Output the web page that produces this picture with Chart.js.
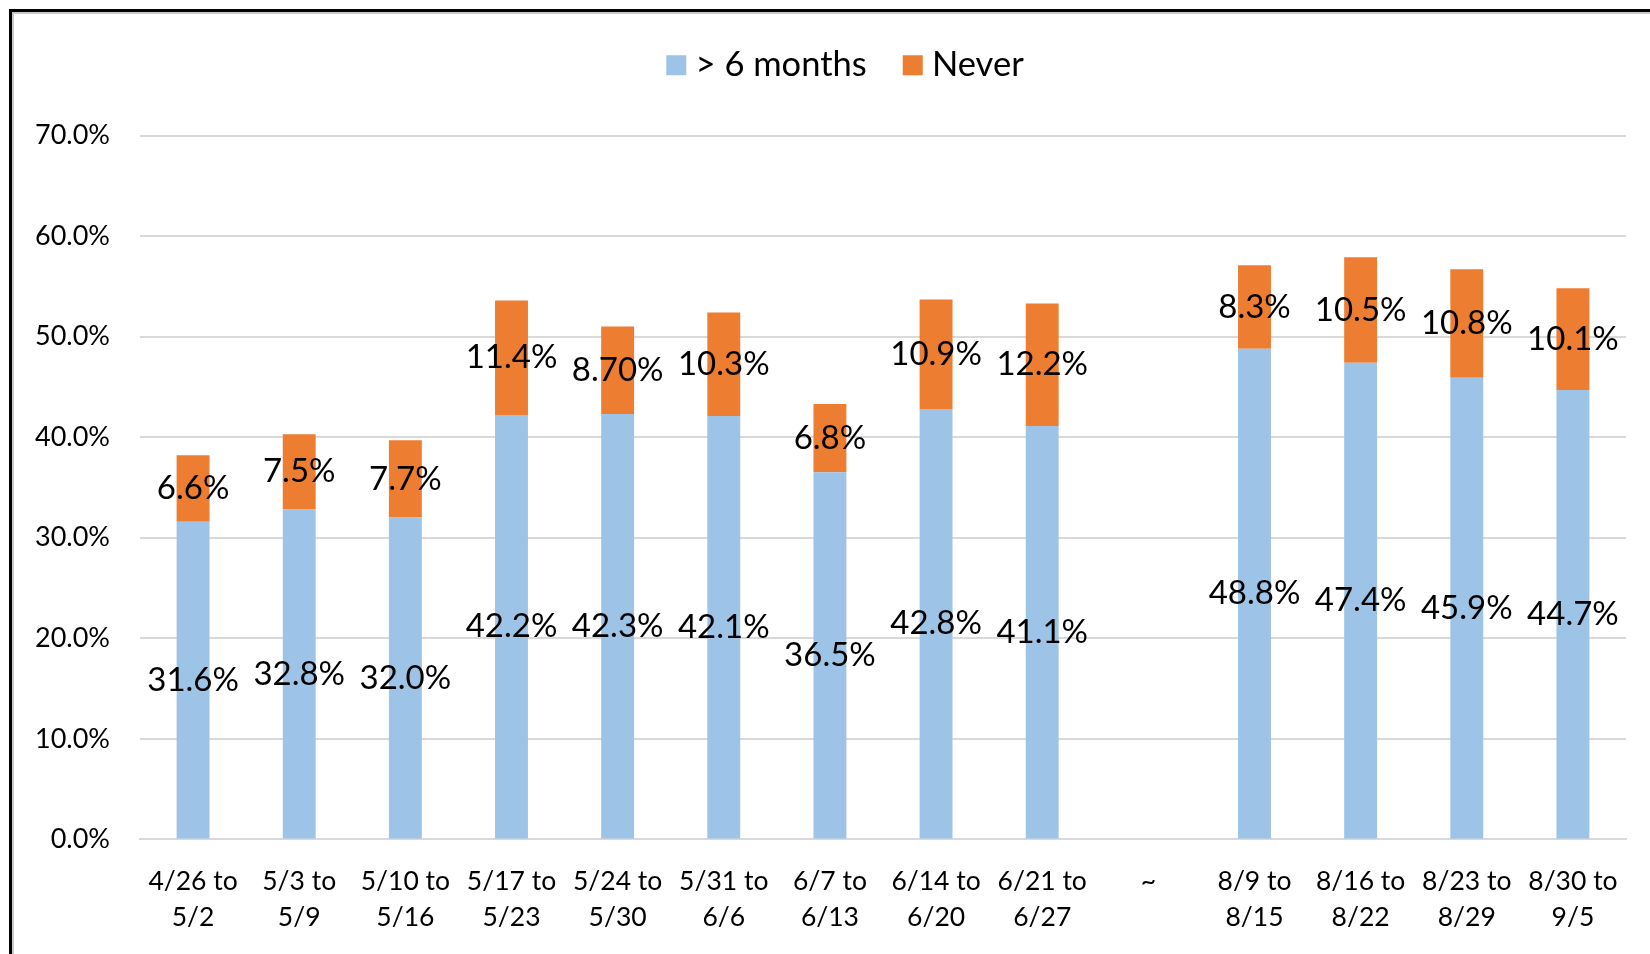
<!DOCTYPE html>
<html lang="en">
<head>
    <meta charset="UTF-8">
    <title>&gt; 6 months vs Never</title>
    <script src="https://cdn.jsdelivr.net/npm/chart.js"></script>
    <style>
        html, body {
            margin: 0;
            padding: 0;
            background: #fff;
            overflow: hidden;
        }
        /* marco negro del gráfico original (solo se ven los bordes izquierdo y superior) */
        .frame {
            position: absolute;
            left: 9px;
            top: 9px;
            width: 1800px;
            height: 1100px;
            border: 3px solid #000;
            box-shadow: inset 2px 2px 0 #c8c8c8;
        }
        .chart-box {
            position: absolute;
            left: 0;
            top: 0;
            width: 1650px;
            height: 954px;
        }
    </style>
</head>
<body>
    <div class="frame"></div>
    <div class="chart-box">
        <canvas id="surveyChart"></canvas>
    </div>

    <script>
        // Datos
        const weeks = [
            ['4/26 to', '5/2'], ['5/3 to', '5/9'], ['5/10 to', '5/16'], ['5/17 to', '5/23'],
            ['5/24 to', '5/30'], ['5/31 to', '6/6'], ['6/7 to', '6/13'], ['6/14 to', '6/20'],
            ['6/21 to', '6/27'], '~',
            ['8/9 to', '8/15'], ['8/16 to', '8/22'], ['8/23 to', '8/29'], ['8/30 to', '9/5']
        ];
        const overSixMonths = [31.6, 32.8, 32.0, 42.2, 42.3, 42.1, 36.5, 42.8, 41.1, null, 48.8, 47.4, 45.9, 44.7];
        const never = [6.6, 7.5, 7.7, 11.4, 8.7, 10.3, 6.8, 10.9, 12.2, null, 8.3, 10.5, 10.8, 10.1];
        const neverLabels = ['6.6%', '7.5%', '7.7%', '11.4%', '8.70%', '10.3%', '6.8%', '10.9%', '12.2%', '', '8.3%', '10.5%', '10.8%', '10.1%'];
        const yTicks = [0, 10, 20, 30, 40, 50, 60, 70];

        const FONT = 'Lato, "Open Sans", sans-serif';
        Chart.defaults.color = '#000';
        Chart.defaults.font.family = FONT;

        // Etiquetas centradas en cada segmento (como en Excel)
        const centerLabels = {
            id: 'centerLabels',
            afterDatasetsDraw(chart) {
                const ctx = chart.ctx;
                ctx.save();
                ctx.font = '33px ' + FONT;
                ctx.fillStyle = '#000';
                ctx.textAlign = 'center';
                ctx.textBaseline = 'middle';
                chart.data.datasets.forEach((ds, i) => {
                    const meta = chart.getDatasetMeta(i);
                    meta.data.forEach((bar, j) => {
                        if (ds.data[j] == null) return;
                        const p = bar.getProps(['x', 'y', 'base'], true);
                        ctx.fillText(ds.valueText[j], p.x, (p.y + p.base) / 2);
                    });
                });
                ctx.restore();
            }
        };

        // Espacio extra bajo la leyenda y leyenda un poco a la derecha
        const legendTweak = {
            id: 'legendTweak',
            beforeInit(chart) {
                const fit = chart.legend.fit;
                chart.legend.fit = function () {
                    fit.call(this);
                    this.height += 43;
                };
            },
            afterLayout(chart) {
                chart.legend.left += 36;
                chart.legend.right += 36;
            }
        };

        const ctx = document.getElementById('surveyChart').getContext('2d');
        const surveyChart = new Chart(ctx, {
            type: 'bar',
            data: {
                labels: weeks,
                datasets: [{
                    label: '> 6 months',
                    data: overSixMonths,
                    valueText: overSixMonths.map(v => v == null ? '' : v.toFixed(1) + '%'),
                    backgroundColor: '#9DC3E6',
                    barPercentage: 0.31,
                    categoryPercentage: 1
                }, {
                    label: 'Never',
                    data: never,
                    valueText: neverLabels,
                    backgroundColor: '#ED7D31',
                    barPercentage: 0.31,
                    categoryPercentage: 1
                }]
            },
            options: {
                responsive: true,
                maintainAspectRatio: false,
                animation: false,
                layout: {
                    padding: { top: 4, right: 24, bottom: -6, left: 0 }
                },
                plugins: {
                    tooltip: { enabled: false },
                    legend: {
                        position: 'top',
                        labels: {
                            usePointStyle: true,
                            pointStyle: 'rect',
                            boxWidth: 4,
                            boxHeight: 20,
                            padding: 44,
                            font: { size: 34.5 }
                        }
                    }
                },
                scales: {
                    x: {
                        stacked: true,
                        grid: { display: false, drawTicks: false },
                        border: { color: '#D9D9D9', width: 2 },
                        ticks: {
                            padding: 24,
                            maxRotation: 0,
                            autoSkip: false,
                            font: { size: 26.5, lineHeight: 1.37 }
                        }
                    },
                    y: {
                        stacked: true,
                        min: 0,
                        max: 70,
                        afterBuildTicks: scale => {
                            scale.ticks = yTicks.map(v => ({ value: v }));
                        },
                        afterFit: scale => { scale.width = 140; },
                        grid: { color: '#D9D9D9', lineWidth: 2, drawTicks: false },
                        border: { display: false },
                        ticks: {
                            padding: 30,
                            font: { size: 27 },
                            callback: v => v.toFixed(1) + '%'
                        }
                    }
                }
            },
            plugins: [centerLabels, legendTweak]
        });
    </script>
</body>
</html>
